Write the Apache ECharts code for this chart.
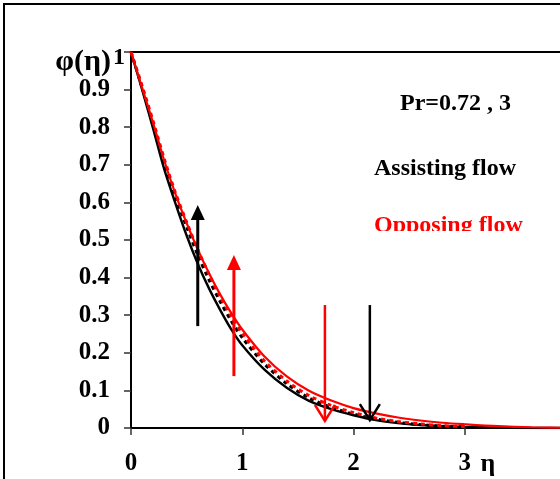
<!DOCTYPE html>
<html>
<head>
<meta charset="utf-8">
<script src="https://cdn.jsdelivr.net/npm/echarts@6/dist/echarts.min.js"></script>
<style>html,body{margin:0;padding:0;background:#fff;}#chart{width:560px;height:479px;}</style>
</head>
<body>
<div id="chart"></div>
<script>
// eta grid (x values)
const eta = [0, 0.1, 0.2, 0.3, 0.4, 0.5, 0.6, 0.7, 0.8, 0.9, 1.0, 1.2, 1.4, 1.6, 1.8, 2.0, 2.2, 2.4, 2.6, 2.8, 3.0, 3.3, 3.6, 4.0];
// Assisting flow (black)
const assistSolid  = [1, 0.900, 0.795, 0.687, 0.597, 0.512, 0.437, 0.372, 0.315, 0.263, 0.220, 0.155, 0.107, 0.072, 0.050, 0.034, 0.021, 0.013, 0.008, 0.005, 0.003, 0.001, 0.0, 0.0];
const assistDashed = [1, 0.905, 0.808, 0.705, 0.615, 0.535, 0.460, 0.395, 0.337, 0.285, 0.240, 0.170, 0.118, 0.080, 0.055, 0.037, 0.024, 0.015, 0.009, 0.005, 0.003, null, null, null];
// Opposing flow (red)
const opposeSolid  = [1, 0.905, 0.810, 0.710, 0.622, 0.545, 0.475, 0.412, 0.356, 0.306, 0.262, 0.190, 0.137, 0.099, 0.073, 0.053, 0.039, 0.028, 0.020, 0.014, 0.010, 0.005, 0.002, 0.0];
const opposeDashed = [1, 0.910, 0.815, 0.715, 0.625, 0.548, 0.475, 0.410, 0.350, 0.298, 0.252, 0.178, 0.125, 0.086, 0.060, 0.041, 0.027, 0.017, 0.011, 0.006, 0.004, null, null, null];
// tick labels
const xTicks = ['0', '1', '2', '3'];
// arrows (annotation)
const arrowX    = [0.60, 0.925, 1.743, 2.147];
const arrowFrom = [0.271, 0.138, 0.327, 0.327];
const arrowTo   = [0.593, 0.460, 0.019, 0.021];
const arrowColor = ['#000000', '#ff0000', '#ff0000', '#000000'];
const arrowHead  = ['filled', 'filled', 'open', 'open'];

const FONT = '"Liberation Serif", "Times New Roman", serif';
function pairs(vals) { return eta.map((e, i) => [e, vals[i]]); }

const chart = echarts.init(document.getElementById('chart'), null, {renderer: 'canvas'});
const arrowData = arrowX.map((x, i) => [x, arrowFrom[i], arrowTo[i], i]);

chart.setOption({
  backgroundColor: '#ffffff',
  animation: false,
  grid: {left: 131, top: 52, width: 445, height: 376, show: true, borderColor: '#000', borderWidth: 2, outerBoundsMode: 'none', containLabel: false},
  xAxis: {
    type: 'value', min: 0, max: 4, interval: 1,
    axisLine: {show: true, onZero: false, lineStyle: {color: '#000', width: 2}},
    axisTick: {show: true, inside: false, length: 7, lineStyle: {color: '#333', width: 1.5}},
    splitLine: {show: false},
    axisLabel: {
      margin: 23, fontFamily: FONT, fontWeight: 'bold', fontSize: 25, color: '#000',
      formatter: v => (xTicks[Math.round(v)] !== undefined ? xTicks[Math.round(v)] : '')
    }
  },
  yAxis: {
    type: 'value', min: 0, max: 1, interval: 0.1,
    name: '{a|φ(η)}{b|1}', nameLocation: 'end', nameGap: -10,
    nameTextStyle: {
      align: 'right', verticalAlign: 'middle', padding: [0, 6, 0, 0],
      rich: {
        a: {fontFamily: FONT, fontWeight: 'bold', fontSize: 30, color: '#000'},
        b: {fontFamily: FONT, fontWeight: 'bold', fontSize: 24, color: '#000', padding: [0, 0, 8, 2]}
      }
    },
    axisLine: {show: true, lineStyle: {color: '#000', width: 2}},
    axisTick: {show: true, inside: false, length: 7, lineStyle: {color: '#333', width: 1.5}},
    splitLine: {show: false},
    axisLabel: {
      margin: 21, fontFamily: FONT, fontWeight: 'bold', fontSize: 25, color: '#000',
      formatter: v => (Math.abs(v - 1) < 1e-9 ? '' : (Math.abs(v) < 1e-9 ? '0' : v.toFixed(1)))
    }
  },
  series: [
    {type: 'line', data: pairs(assistSolid), smooth: 0.3, showSymbol: false, connectNulls: false,
     lineStyle: {color: '#000', width: 2.4}, z: 3},
    {type: 'line', data: pairs(assistDashed), smooth: 0.3, showSymbol: false,
     lineStyle: {color: '#000', width: 3, type: [4, 4]}, z: 3},
    {type: 'line', data: pairs(opposeSolid), smooth: 0.3, showSymbol: false,
     lineStyle: {color: '#ff0000', width: 2.2}, z: 4},
    {type: 'line', data: pairs(opposeDashed), smooth: 0.3, showSymbol: false,
     lineStyle: {color: '#ff0000', width: 3, type: [4, 4]}, z: 4},
    {
      type: 'custom', z: 6, data: arrowData,
      renderItem: function (params, api) {
        const i = api.value(3);
        const p0 = api.coord([api.value(0), api.value(1)]);
        const p1 = api.coord([api.value(0), api.value(2)]);
        const dir = p1[1] > p0[1] ? 1 : -1;
        const col = arrowColor[i];
        if (arrowHead[i] === 'filled') {
          const hb = p1[1] - dir * 15;
          return {type: 'group', children: [
            {type: 'line', shape: {x1: p0[0], y1: p0[1], x2: p1[0], y2: hb}, style: {stroke: col, lineWidth: 3}},
            {type: 'polygon', shape: {points: [[p1[0], p1[1]], [p1[0] - 7, hb], [p1[0] + 7, hb]]}, style: {fill: col}}
          ]};
        } else {
          return {type: 'group', children: [
            {type: 'line', shape: {x1: p0[0], y1: p0[1], x2: p1[0], y2: p1[1]}, style: {stroke: col, lineWidth: 2.5}},
            {type: 'polyline', shape: {points: [[p1[0] - 10, p1[1] - dir * 16], [p1[0], p1[1]], [p1[0] + 10, p1[1] - dir * 16]]},
             style: {stroke: col, lineWidth: 2.5, fill: null}}
          ]};
        }
      }
    }
  ],
  graphic: [
    {type: 'rect', shape: {x: 4, y: 4, width: 600, height: 520}, style: {fill: null, stroke: '#000', lineWidth: 2}, z: 100},
    {type: 'text', x: 400, y: 104, style: {text: 'Pr=0.72 , 3', font: 'bold 24px ' + FONT, fill: '#000', textVerticalAlign: 'middle'}, z: 100},
    {type: 'text', x: 374, y: 169, style: {text: 'Assisting flow', font: 'bold 24px ' + FONT, fill: '#000', textVerticalAlign: 'middle'}, z: 100},
    {type: 'text', x: 374, y: 226, style: {text: 'Opposing flow', font: 'bold 24px ' + FONT, fill: '#ff0000', textVerticalAlign: 'middle'}, z: 100},
    {type: 'rect', shape: {x: 368, y: 231, width: 170, height: 14}, style: {fill: '#ffffff'}, z: 101},
    {type: 'text', x: 488, y: 464, style: {text: 'η', font: 'bold 26px ' + FONT, fill: '#000', textAlign: 'center', textVerticalAlign: 'middle'}, z: 100}
  ]
});
</script>
</body>
</html>
